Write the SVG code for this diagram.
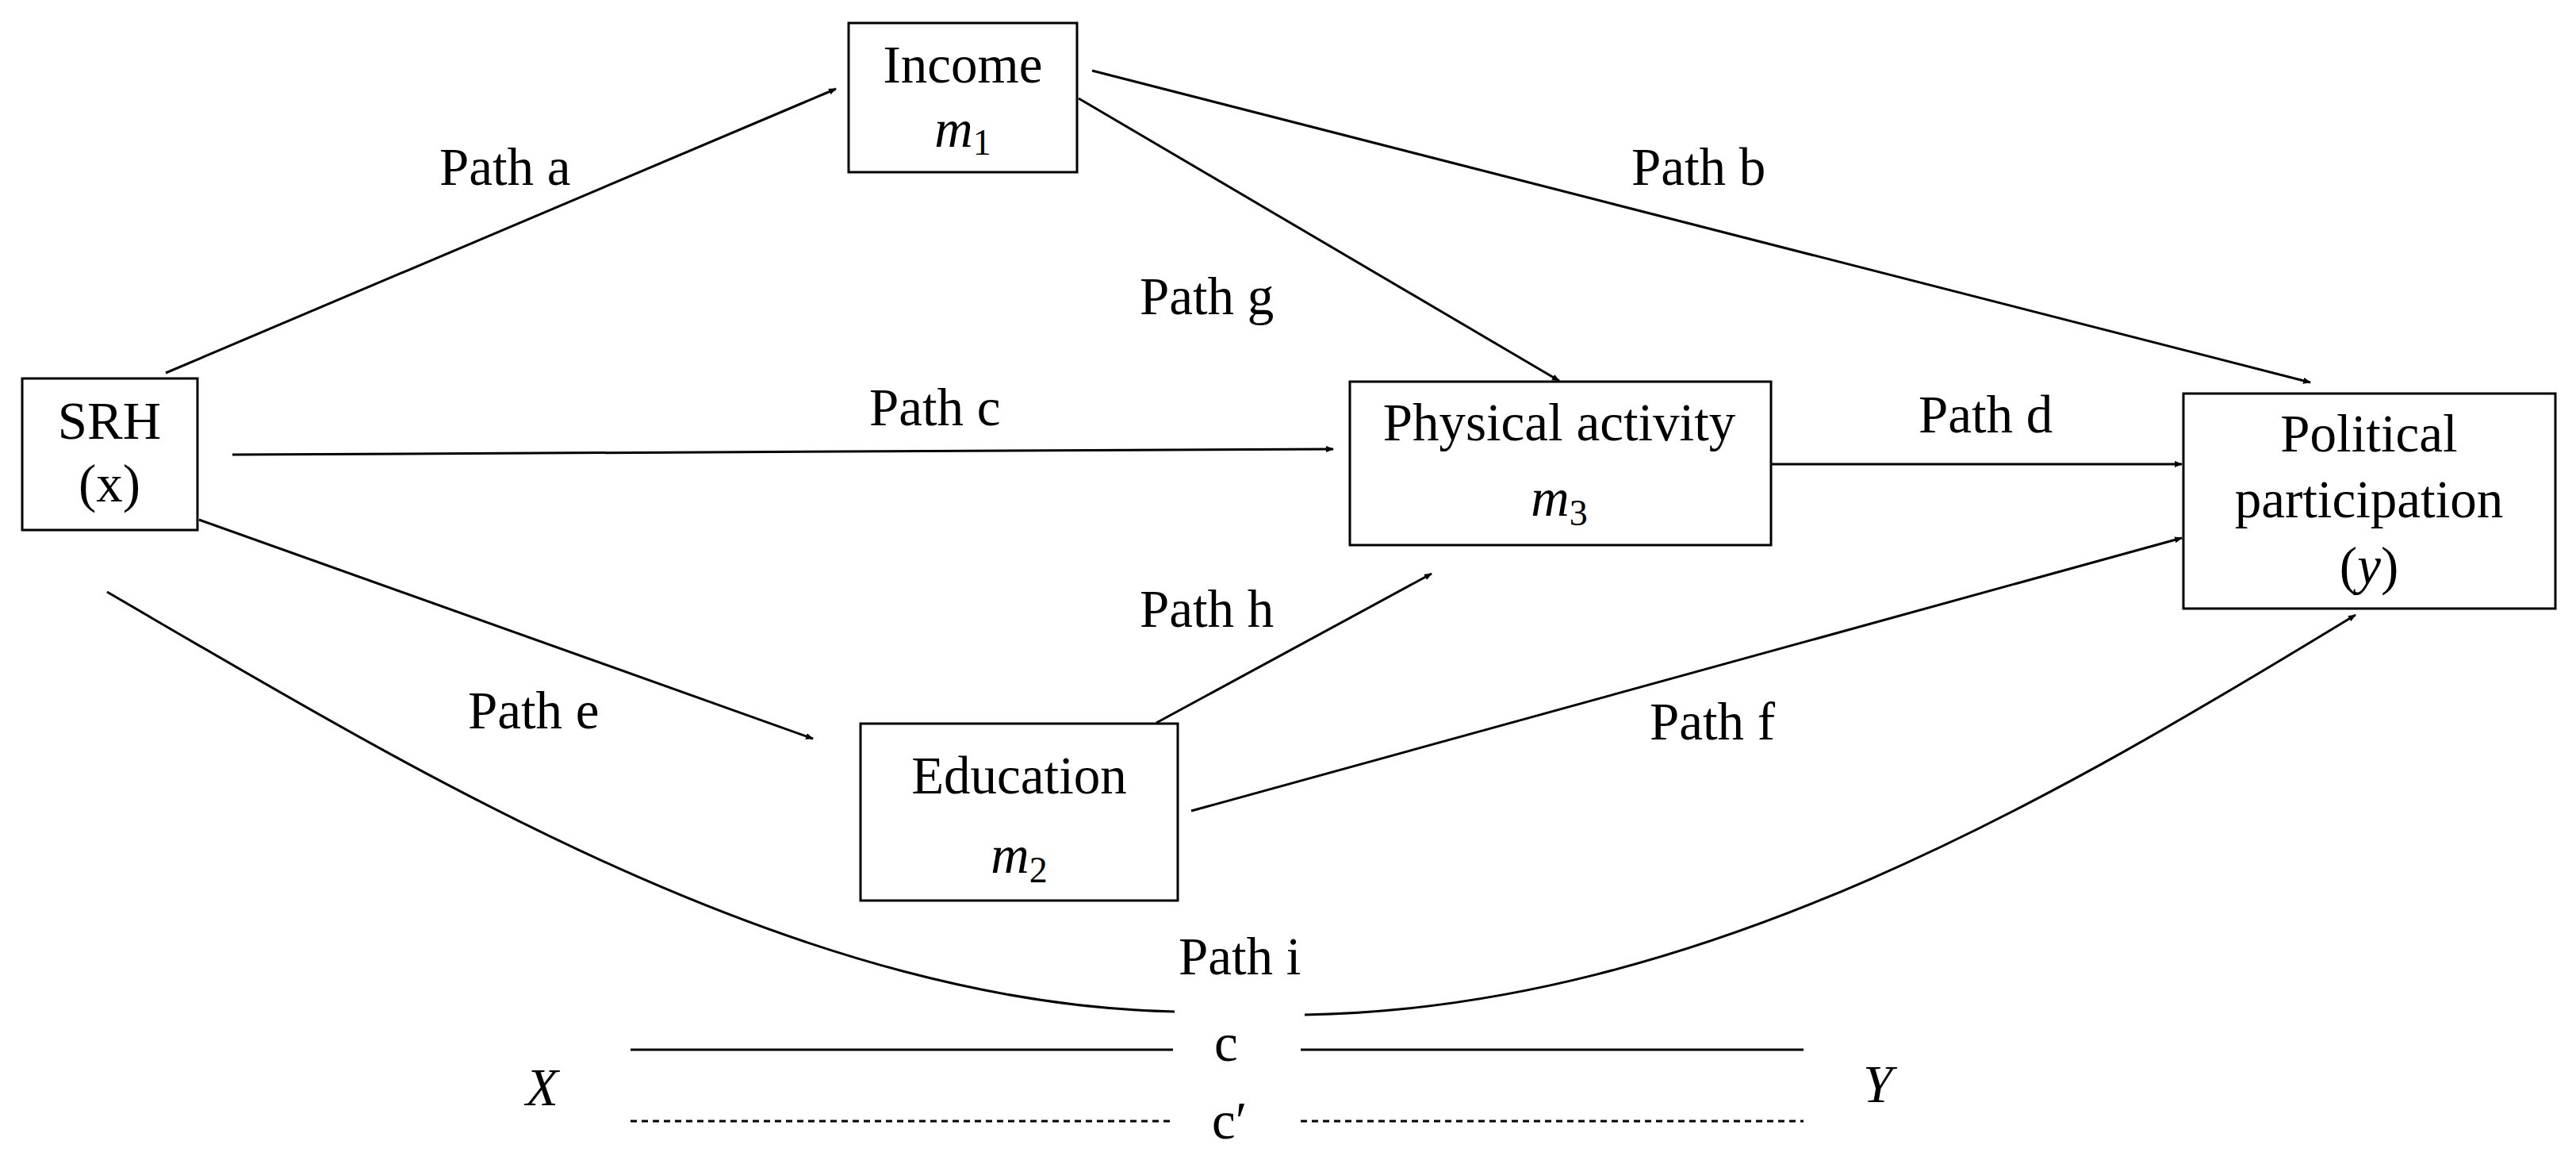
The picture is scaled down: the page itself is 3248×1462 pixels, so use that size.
<svg xmlns="http://www.w3.org/2000/svg" width="3248" height="1462" viewBox="0 0 3248 1462">
<style>
text{font-family:"Liberation Serif","Times New Roman",serif;font-size:67px;fill:#000}
.box{fill:#fff;stroke:#000;stroke-width:3}
.ln{fill:none;stroke:#000;stroke-width:3}
.it{font-style:italic}
.sub{font-size:46px;font-style:normal}
</style>
<defs>
<marker id="ah" markerWidth="10" markerHeight="8" refX="9" refY="4" orient="auto" markerUnits="userSpaceOnUse" viewBox="0 0 10 8">
<path d="M0,0 L10,4 L0,8 Z" fill="#000"/>
</marker>
</defs>
<rect width="3248" height="1462" fill="#fff"/>
<g id="connectors">
<line class="ln" x1="209" y1="470" x2="1054" y2="112" marker-end="url(#ah)"/>
<line class="ln" x1="1377" y1="89" x2="2913" y2="482" marker-end="url(#ah)"/>
<line class="ln" x1="1360" y1="124" x2="1966" y2="480" marker-end="url(#ah)"/>
<line class="ln" x1="293" y1="573" x2="1681" y2="566" marker-end="url(#ah)"/>
<line class="ln" x1="2233" y1="585" x2="2751" y2="585" marker-end="url(#ah)"/>
<line class="ln" x1="251" y1="655" x2="1025" y2="931" marker-end="url(#ah)"/>
<line class="ln" x1="1458" y1="911" x2="1805" y2="723" marker-end="url(#ah)"/>
<line class="ln" x1="1502" y1="1022" x2="2751" y2="678" marker-end="url(#ah)"/>
<path class="ln" d="M135,746 C520,970 1000,1265 1481,1275"/>
<path class="ln" d="M1645,1279 C2150,1270 2600,1000 2970,775" marker-end="url(#ah)"/>
<line class="ln" x1="795" y1="1323" x2="1479" y2="1323"/>
<line class="ln" x1="1640" y1="1323" x2="2274" y2="1323"/>
<line class="ln" x1="795" y1="1413" x2="1479" y2="1413" stroke-dasharray="8,6" stroke-width="2"/>
<line class="ln" x1="1640" y1="1413" x2="2274" y2="1413" stroke-dasharray="8,6" stroke-width="2"/>
</g>
<g id="labels">
<text x="554" y="233">Path a</text>
<text x="2057" y="233">Path b</text>
<text x="1437" y="396">Path g</text>
<text x="1096" y="536">Path c</text>
<text x="2419" y="545">Path d</text>
<text x="1437" y="790">Path h</text>
<text x="590" y="918">Path e</text>
<text x="2080" y="932">Path f</text>
<text x="1486" y="1228">Path i</text>
<text x="1531" y="1337">c</text>
<text x="1528" y="1435">c′</text>
<text x="663" y="1393" class="it" font-size="80">X</text>
<text x="2349" y="1389" class="it" font-size="80">Y</text>
</g>
<g id="srh">
<rect class="box" x="28" y="477" width="221" height="191"/>
<text x="138" y="553" text-anchor="middle">SRH</text>
<text x="138" y="632" text-anchor="middle">(x)</text>
</g>
<g id="income">
<rect class="box" x="1070" y="29" width="288" height="188"/>
<text x="1214" y="104" text-anchor="middle">Income</text>
<text x="1214" y="185" text-anchor="middle"><tspan class="it">m</tspan><tspan class="sub" dy="10">1</tspan></text>
</g>
<g id="education">
<rect class="box" x="1085" y="912" width="400" height="223"/>
<text x="1285" y="1000" text-anchor="middle" font-size="80">Education</text>
<text x="1285" y="1100" text-anchor="middle" font-size="72"><tspan class="it">m</tspan><tspan class="sub" dy="12" font-size="52">2</tspan></text>
</g>
<g id="physical">
<rect class="box" x="1702" y="481" width="531" height="206"/>
<text x="1966" y="555" text-anchor="middle">Physical activity</text>
<text x="1966" y="650" text-anchor="middle"><tspan class="it">m</tspan><tspan class="sub" dy="12">3</tspan></text>
</g>
<g id="political">
<rect class="box" x="2753" y="496" width="469" height="271"/>
<text x="2987" y="569" text-anchor="middle">Political</text>
<text x="2987" y="652" text-anchor="middle">participation</text>
<text x="2987" y="736" text-anchor="middle">(<tspan class="it">y</tspan>)</text>
</g>
</svg>
